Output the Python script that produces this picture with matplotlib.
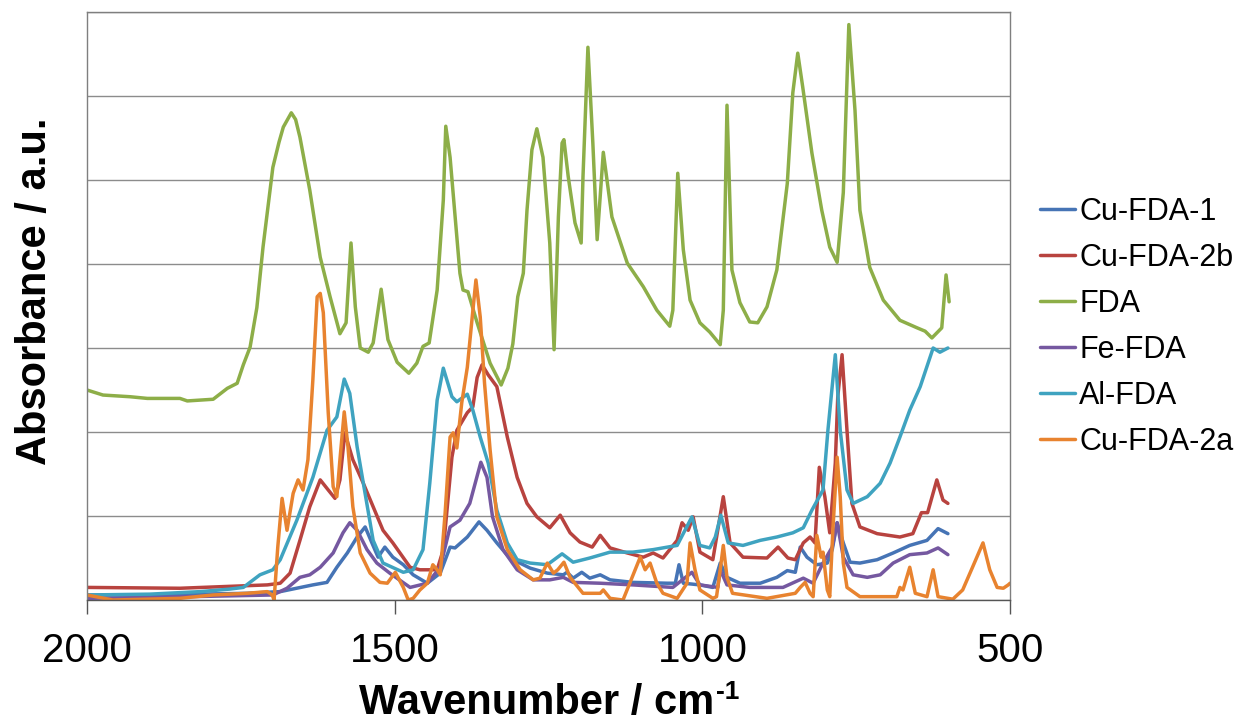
import numpy as np
import matplotlib.pyplot as plt

plt.rcParams['font.family'] = ['Liberation Sans', 'DejaVu Sans']

# values (wavenumber in cm-1, absorbance in a.u.)
cu1_wn = [2000, 1898, 1740, 1686, 1633, 1610, 1594, 1577, 1561, 1548, 1537, 1527, 1516, 1503,
          1486, 1470, 1447, 1426, 1410, 1402, 1382, 1363, 1350, 1334, 1313, 1280, 1252, 1226,
          1220, 1210, 1196, 1183, 1166, 1150, 1113, 1057, 1044, 1038, 1031, 1004, 983, 971,
          960, 939, 906, 879, 862, 849, 841, 830, 814, 797, 789, 781, 771, 760, 744, 716,
          690, 663, 635, 617, 601]
cu1_abs = [0.06, 0.06, 0.08, 0.10, 0.18, 0.21, 0.39, 0.56, 0.75, 0.87, 0.68, 0.51, 0.63, 0.51,
           0.42, 0.30, 0.20, 0.32, 0.63, 0.62, 0.75, 0.93, 0.83, 0.68, 0.50, 0.38, 0.32, 0.30,
           0.33, 0.26, 0.33, 0.26, 0.30, 0.24, 0.21, 0.20, 0.20, 0.42, 0.20, 0.18, 0.15, 0.44,
           0.27, 0.20, 0.20, 0.27, 0.35, 0.33, 0.63, 0.51, 0.42, 0.44, 0.60, 0.92, 0.68, 0.45,
           0.44, 0.48, 0.56, 0.65, 0.71, 0.85, 0.79]

cu2b_wn = [2000, 1849, 1707, 1686, 1670, 1654, 1638, 1621, 1608, 1597, 1589, 1581, 1568, 1551,
           1535, 1519, 1503, 1475, 1459, 1431, 1421, 1407, 1399, 1382, 1373, 1366, 1358, 1348,
           1334, 1317, 1301, 1285, 1269, 1248, 1231, 1215, 1199, 1179, 1166, 1150, 1122, 1096,
           1080, 1064, 1041, 1033, 1023, 1015, 1004, 983, 966, 955, 934, 895, 877, 861, 849,
           836, 825, 817, 810, 801, 793, 784, 780, 773, 765, 757, 744, 716, 679, 658, 644,
           634, 619, 609, 601]
cu2b_abs = [0.15, 0.14, 0.18, 0.20, 0.32, 0.71, 1.11, 1.43, 1.31, 1.21, 1.43, 1.99, 1.67, 1.39,
            1.11, 0.83, 0.68, 0.39, 0.36, 0.36, 0.60, 1.70, 2.02, 2.23, 2.30, 2.65, 2.80, 2.68,
            2.54, 1.94, 1.46, 1.15, 0.99, 0.86, 1.01, 0.80, 0.69, 0.63, 0.77, 0.62, 0.56, 0.51,
            0.56, 0.50, 0.71, 0.92, 0.83, 0.99, 0.57, 0.48, 1.23, 0.68, 0.51, 0.50, 0.63, 0.50,
            0.48, 0.68, 0.75, 0.68, 1.58, 1.23, 0.80, 1.63, 2.42, 2.92, 2.02, 1.15, 0.87, 0.79,
            0.75, 0.79, 1.04, 1.04, 1.43, 1.19, 1.15]

fda_wn = [2000, 1974, 1930, 1902, 1849, 1837, 1795, 1772, 1756, 1746, 1735, 1724, 1714, 1698,
          1688, 1681, 1668, 1661, 1654, 1638, 1621, 1605, 1589, 1579, 1571, 1564, 1556, 1543,
          1535, 1522, 1511, 1496, 1477, 1464, 1454, 1444, 1431, 1421, 1417, 1410, 1394, 1389,
          1381, 1366, 1345, 1327, 1316, 1308, 1300, 1291, 1285, 1277, 1269, 1259, 1248, 1241,
          1234, 1228, 1225, 1218, 1207, 1197, 1194, 1186, 1178, 1171, 1161, 1147, 1122, 1096,
          1074, 1053, 1048, 1040, 1031, 1020, 1004, 988, 971, 966, 960, 952, 939, 923, 910,
          895, 879, 862, 853, 845, 837, 822, 806, 793, 781, 771, 762, 752, 744, 728, 706, 679,
          651, 638, 627, 611, 604, 599]
fda_abs = [2.50, 2.44, 2.42, 2.40, 2.40, 2.37, 2.39, 2.52, 2.58, 2.80, 3.01, 3.48, 4.20, 5.15,
           5.45, 5.63, 5.80, 5.72, 5.51, 4.88, 4.08, 3.61, 3.17, 3.30, 4.25, 3.49, 3.00, 2.95,
           3.06, 3.70, 3.10, 2.83, 2.70, 2.82, 3.02, 3.06, 3.69, 4.76, 5.64, 5.27, 3.89, 3.69,
           3.67, 3.30, 2.82, 2.56, 2.76, 3.05, 3.61, 3.89, 4.64, 5.36, 5.61, 5.27, 4.25, 2.98,
           4.56, 5.44, 5.48, 5.04, 4.49, 4.25, 5.04, 6.58, 5.44, 4.29, 5.33, 4.56, 4.01, 3.73,
           3.45, 3.26, 3.45, 5.08, 4.17, 3.57, 3.30, 3.19, 3.04, 3.45, 5.89, 3.93, 3.54, 3.31,
           3.30, 3.49, 3.93, 4.96, 6.04, 6.51, 6.11, 5.32, 4.64, 4.20, 4.02, 4.85, 6.85, 5.83,
           4.64, 3.96, 3.57, 3.33, 3.24, 3.20, 3.12, 3.24, 3.87, 3.55]

fe_wn = [2000, 1898, 1698, 1675, 1654, 1638, 1621, 1600, 1584, 1573, 1561, 1545, 1529, 1508,
         1475, 1447, 1426, 1410, 1394, 1378, 1360, 1350, 1341, 1324, 1301, 1275, 1248, 1226,
         1210, 1166, 1113, 1048, 1017, 1004, 975, 971, 960, 923, 869, 836, 820, 804, 789, 781,
         771, 755, 732, 711, 690, 663, 635, 617, 601]
fe_abs = [0.02, 0.03, 0.06, 0.14, 0.27, 0.30, 0.39, 0.56, 0.80, 0.92, 0.83, 0.60, 0.44, 0.32,
          0.15, 0.20, 0.39, 0.87, 0.95, 1.15, 1.64, 1.46, 0.99, 0.60, 0.36, 0.24, 0.24, 0.27,
          0.21, 0.20, 0.18, 0.15, 0.33, 0.18, 0.15, 0.36, 0.18, 0.15, 0.15, 0.26, 0.20, 0.44,
          0.63, 0.92, 0.51, 0.30, 0.27, 0.30, 0.44, 0.54, 0.56, 0.62, 0.54]

al_wn = [2000, 1898, 1816, 1768, 1746, 1719, 1698, 1686, 1659, 1633, 1610, 1594, 1582, 1573,
         1561, 1550, 1535, 1519, 1486, 1470, 1454, 1443, 1431, 1421, 1407, 1399, 1382, 1373,
         1361, 1348, 1334, 1317, 1301, 1280, 1252, 1228, 1210, 1183, 1150, 1113, 1080, 1041,
         1017, 1004, 988, 979, 970, 958, 934, 906, 879, 853, 836, 822, 804, 796, 784, 776,
         765, 755, 732, 711, 695, 679, 663, 646, 625, 614, 601]
al_abs = [0.06, 0.07, 0.10, 0.13, 0.15, 0.30, 0.36, 0.48, 0.95, 1.46, 2.02, 2.18, 2.63, 2.46,
          1.82, 1.35, 0.71, 0.44, 0.33, 0.36, 0.60, 1.39, 2.38, 2.76, 2.42, 2.36, 2.45, 2.26,
          1.94, 1.63, 1.07, 0.68, 0.48, 0.44, 0.42, 0.55, 0.45, 0.50, 0.57, 0.57, 0.60, 0.65,
          0.99, 0.65, 0.62, 0.75, 1.01, 0.68, 0.65, 0.71, 0.75, 0.80, 0.86, 1.07, 1.31, 2.02,
          2.92, 2.02, 1.31, 1.15, 1.23, 1.39, 1.63, 1.94, 2.26, 2.54, 3.00, 2.95, 3.00]

cu2a_wn = [2000, 1958, 1849, 1795, 1740, 1707, 1699, 1696, 1690, 1683, 1675, 1665, 1657, 1649,
           1641, 1633, 1626, 1621, 1616, 1608, 1600, 1594, 1589, 1582, 1576, 1568, 1556, 1540,
           1524, 1512, 1499, 1486, 1478, 1470, 1459, 1447, 1438, 1431, 1426, 1418, 1410, 1405,
           1399, 1391, 1382, 1374, 1368, 1361, 1354, 1345, 1334, 1317, 1296, 1275, 1264, 1252,
           1242, 1235, 1225, 1215, 1194, 1166, 1161, 1150, 1129, 1118, 1101, 1093, 1085, 1074,
           1064, 1041, 1025, 1020, 1012, 1004, 983, 977, 971, 966, 960, 951, 895, 849, 841,
           833, 825, 820, 814, 807, 804, 797, 793, 788, 781, 776, 771, 765, 744, 684, 679, 674,
           663, 654, 635, 625, 617, 593, 577, 561, 544, 533, 521, 511, 503, 500]
cu2a_abs = [0.06, 0.00, 0.02, 0.06, 0.08, 0.10, 0.06, 0.00, 0.63, 1.21, 0.83, 1.27, 1.43, 1.31,
            1.67, 2.62, 3.61, 3.65, 3.42, 2.23, 1.35, 1.23, 1.67, 2.24, 1.83, 1.11, 0.56, 0.32,
            0.21, 0.20, 0.33, 0.15, 0.00, 0.02, 0.12, 0.20, 0.42, 0.36, 0.30, 1.04, 1.94, 1.99,
            1.81, 2.35, 2.77, 3.37, 3.81, 3.37, 2.58, 1.79, 0.99, 0.60, 0.36, 0.24, 0.26, 0.44,
            0.32, 0.36, 0.45, 0.27, 0.08, 0.08, 0.12, 0.02, 0.00, 0.20, 0.51, 0.36, 0.44, 0.20,
            0.08, 0.02, 0.20, 0.68, 0.36, 0.12, 0.02, 0.04, 0.36, 0.65, 0.27, 0.08, 0.02, 0.08,
            0.15, 0.21, 0.08, 0.04, 0.77, 0.51, 0.57, 0.12, 0.04, 0.83, 1.70, 1.23, 0.44, 0.15,
            0.04, 0.04, 0.15, 0.12, 0.39, 0.08, 0.04, 0.36, 0.04, 0.01, 0.12, 0.39, 0.68, 0.36,
            0.15, 0.14, 0.18, 0.20]

names = ['Cu-FDA-1', 'Cu-FDA-2b', 'FDA', 'Fe-FDA', 'Al-FDA', 'Cu-FDA-2a']
colors = ['#4674B5', '#B8433F', '#8DAE48', '#7558A0', '#3FA3C0', '#E8832F']
series = [(cu1_wn, cu1_abs), (cu2b_wn, cu2b_abs), (fda_wn, fda_abs),
          (fe_wn, fe_abs), (al_wn, al_abs), (cu2a_wn, cu2a_abs)]

fig = plt.figure(figsize=(12.43, 7.23), dpi=100)
ax = fig.add_axes([0.070, 0.1701, 0.7426, 0.8133])

for (wn, ab), name, c in zip(series, names, colors):
    ax.plot(wn, ab, color=c, lw=2.5, label=name, solid_joinstyle='round',
            solid_capstyle='round')

ax.set_xlim(2000, 500)
ax.set_ylim(0, 7)
ax.set_xticks([2000, 1500, 1000, 500])
ax.set_yticks(np.arange(0, 8, 1))
ax.yaxis.grid(True, color='#8c8c8c', lw=1)
ax.set_axisbelow(True)
ax.tick_params(axis='y', left=False, labelleft=False)
ax.tick_params(axis='x', direction='out', length=10, width=1, color='#555555',
               labelsize=29, pad=13)
for s in ax.spines.values():
    s.set_color('#7f7f7f')
    s.set_linewidth(1)
ax.spines['bottom'].set_color('#555555')

ax.set_xlabel('Wavenumber / cm', fontsize=30, fontweight='bold', va='top')
ax.xaxis.set_label_coords(0.487, -0.141)
ax.annotate('-1', xy=(1.0, 1.0), xycoords=ax.xaxis.label, xytext=(1, 2),
            textcoords='offset points', fontsize=19, fontweight='bold',
            ha='left', va='top')
ax.set_ylabel('Absorbance / a.u.', fontsize=30, fontweight='bold')
ax.yaxis.set_label_coords(-0.035, 0.5255)

leg = ax.legend(loc='upper left', bbox_to_anchor=(1.0195, 0.706), frameon=False,
                fontsize=22, handlelength=1.15, handletextpad=0.12, labelspacing=0.52,
                borderaxespad=0)

fig.savefig('out.png', dpi=100)
